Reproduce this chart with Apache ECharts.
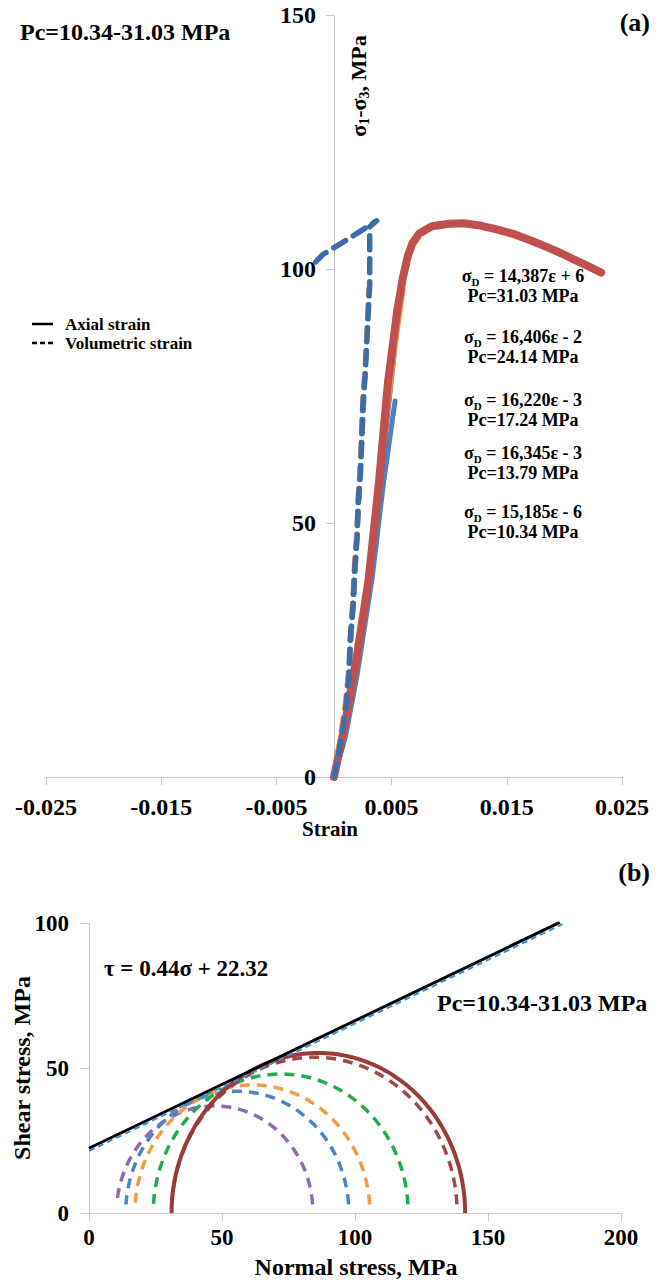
<!DOCTYPE html>
<html><head><meta charset="utf-8">
<script src="https://cdn.jsdelivr.net/npm/echarts@6/dist/echarts.min.js"></script>
<style>html,body{margin:0;padding:0;background:#fff}#c{width:664px;height:1280px}</style>
</head><body><div id="c"></div>
<script>
// ---------- Panel (a): stress-strain data [strain, sigma1-sigma3 (MPa)] ----------
const axial_10_34 = [[0,0],[0.0010,8],[0.0020,20],[0.0033,39],[0.0043,58],[0.0053,74]];
const axial_13_79 = [[0,0],[0.0010,9],[0.0020,22],[0.0032,41],[0.0043,63],[0.0053,84]];
const axial_17_24 = [[0,0],[0.0010,9],[0.0020,22],[0.0031,41],[0.0043,65],[0.0055,89]];
const axial_24_14 = [[0,0],[0.0010,10],[0.0020,24],[0.0030,40],[0.0042,64],[0.0052,83],[0.0060,96]];
const axial_31_03 = [[0,0],[0.0010,11],[0.0020,24],[0.0030,38.8],[0.0039,58],[0.0047,78],[0.0055,92],
  [0.0060,98.5],[0.0064,102.5],[0.0068,105],[0.0074,107],[0.0085,108.4],[0.0100,108.9],[0.0113,109],
  [0.0128,108.5],[0.0143,107.7],[0.0157,106.8],[0.0172,105.5],[0.0186,104.2],[0.0198,103],[0.0209,101.8],
  [0.0221,100.5],[0.0232,99.3]];
const vol_10_34 = [[0,0],[0.0005,6],[0.0010,13],[0.0013,20],[0.0015,28],[0.0017,35],[0.0019,43],[0.0021,52],[0.0023,61],[0.0025,70],[0.0026,74]];
const vol_13_79 = [[0,0],[0.0005,6],[0.0010,14],[0.0013,21],[0.0015,29],[0.0017,36],[0.0019,44],[0.0021,53],[0.0023,62],[0.0025,71],[0.0027,80],[0.0028,84]];
const vol_17_24 = [[0,0],[0.0005,7],[0.0010,14],[0.0013,21],[0.0015,29],[0.0017,37],[0.0019,45],[0.0021,54],[0.0023,62],[0.0025,71],[0.0027,80],[0.0029,88.5]];
const vol_24_14 = [[0,0],[0.0005,7],[0.0010,15],[0.0013,22],[0.0015,30],[0.00165,36],[0.0018,43],[0.0020,49],[0.0021,56],[0.0023,62],[0.0024,68],[0.0025,75],[0.0027,81],[0.0029,90],[0.0030,96]];
const vol_31_03 = [[0,0],[0.0005,6],[0.0010,13],[0.0013,20],[0.0014,27],[0.00165,33.5],[0.0018,41],[0.0020,47],
  [0.0021,54],[0.0023,60],[0.0024,66],[0.0025,73],[0.0027,79],[0.0029,88],[0.0031,97],[0.0031,108.3],
  [0.0037,109.5],[0.0022,107.3],[0.0008,105.3],[-0.0010,102.8],[-0.0020,100.4]];

// ---------- Panel (b): Mohr circles (sigma3, sigma1 in MPa) and envelope ----------
const circleSigma3 = [10.34, 13.79, 17.24, 24.14, 31.03, 31.03];
const circleSigma1 = [84.2, 97.7, 105.6, 120.0, 138.4, 141.4];
const envelopeSigma = [0, 177];
const envelopeTau = [22.32, 100.2];
const fitSigma = [0, 178];
const fitTau = [21.4, 99.6];

const F = 'Liberation Serif, Times New Roman, serif';
const txt = (x, y, text, size, align, extra) => Object.assign({
  type: 'text', x: x, y: y, silent: true,
  style: { text: text, fontFamily: F, fontWeight: 'bold', fontSize: size, fill: '#000',
    align: align || 'left', verticalAlign: 'middle' }
}, extra || {});
const richSub = (x, y, main, sub, rest, size) => ({
  type: 'text', x: x, y: y, silent: true,
  style: { text: '{t|' + main + '}{s|' + sub + '}{t|' + rest + '}', align: 'center', verticalAlign: 'middle',
    rich: { t: { fontFamily: F, fontWeight: 'bold', fontSize: size, fill: '#000', lineHeight: size + 4, verticalAlign: 'middle' },
            s: { fontFamily: F, fontWeight: 'bold', fontSize: Math.round(size * 0.62), fill: '#000', lineHeight: size + 4, verticalAlign: 'bottom' } } }
});

const annotations = [
  ['14,387ε + 6', 'Pc=31.03 MPa', 276],
  ['16,406ε - 2', 'Pc=24.14 MPa', 337],
  ['16,220ε - 3', 'Pc=17.24 MPa', 400],
  ['16,345ε - 3', 'Pc=13.79 MPa', 453],
  ['15,185ε - 6', 'Pc=10.34 MPa', 512]
];

const graphics = [
  txt(20, 32, 'Pc=10.34-31.03 MPa', 24),
  txt(650, 22, '(a)', 26, 'right'),
  txt(330, 829, 'Strain', 21, 'center'),
  txt(650, 872, '(b)', 26, 'right'),
  txt(104, 968, 'τ = 0.44σ + 22.32', 23),
  txt(437, 1003, 'Pc=10.34-31.03 MPa', 24),
  txt(356, 1267, 'Normal stress, MPa', 24, 'center'),
  txt(22, 1068, 'Shear stress, MPa', 24, 'center', { rotation: Math.PI / 2 }),
  { type: 'text', x: 358, y: 86, rotation: Math.PI / 2, silent: true,
    style: { text: '{t|σ}{s|1}{t|-σ}{s|3}{t|, MPa}', align: 'center', verticalAlign: 'middle',
      rich: { t: { fontFamily: F, fontWeight: 'bold', fontSize: 22, fill: '#000', lineHeight: 26, verticalAlign: 'middle' },
              s: { fontFamily: F, fontWeight: 'bold', fontSize: 14, fill: '#000', lineHeight: 26, verticalAlign: 'bottom' } } } },
  { type: 'line', silent: true, shape: { x1: 32, y1: 324, x2: 53, y2: 324 }, style: { stroke: '#000', lineWidth: 2.5 } },
  { type: 'line', silent: true, shape: { x1: 32, y1: 343, x2: 54, y2: 343 }, style: { stroke: '#000', lineWidth: 2.5, lineDash: [5, 3] } },
  txt(65, 324, 'Axial strain', 17),
  txt(65, 343, 'Volumetric strain', 17)
];
annotations.forEach(a => {
  graphics.push(richSub(523, a[2], 'σ', 'D', ' = ' + a[0], 18));
  graphics.push(txt(523, a[2] + 20, a[1], 18, 'center'));
});

const axisLabelStyle = (size, margin) => ({ fontFamily: F, fontWeight: 'bold', fontSize: size, color: '#000', margin: margin });
const grayLine = { show: true, onZero: true, lineStyle: { color: '#c8c8c8', width: 1 } };
const grayLineFree = { show: true, onZero: false, lineStyle: { color: '#c8c8c8', width: 1 } };
const grayTick = { show: true, length: 8, lineStyle: { color: '#c8c8c8', width: 1 } };

function lineSeries(data, color, width, dashed, z) {
  return { type: 'line', xAxisIndex: 0, yAxisIndex: 0, data: data, showSymbol: false, silent: true, z: z,
    lineStyle: { color: color, width: width, type: dashed ? [14, 9] : 'solid', cap: 'round', join: 'round' } };
}
function circleSeries(i, color, width, dash, gap, z) {
  return { type: 'custom', xAxisIndex: 1, yAxisIndex: 1, silent: true, z: z,
    data: [[circleSigma3[i], circleSigma1[i]]],
    renderItem: function (params, api) {
      const s3 = api.value(0), s1 = api.value(1);
      const c = (s3 + s1) / 2, r = (s1 - s3) / 2;
      const a0 = Math.asin(Math.min(gap / r, 1));
      const pts = [];
      const n = 120;
      for (let k = 0; k <= n; k++) {
        const t = a0 + (Math.PI - 2 * a0) * k / n;
        pts.push(api.coord([c + r * Math.cos(t), r * Math.sin(t)]));
      }
      return { type: 'polyline', shape: { points: pts },
        style: { stroke: color, lineWidth: width, lineDash: dash, fill: 'none' } };
    } };
}
function pairs(xs, ys) { return xs.map((x, i) => [x, ys[i]]); }

const option = {
  backgroundColor: '#fff',
  animation: false,
  grid: [
    { left: 46, right: 42, top: 15, bottom: 503 },
    { left: 89, right: 43, top: 923, bottom: 67 }
  ],
  xAxis: [
    { gridIndex: 0, type: 'value', min: -0.025, max: 0.025, interval: 0.01,
      axisLine: grayLine, axisTick: grayTick, splitLine: { show: false },
      axisLabel: Object.assign(axisLabelStyle(24, 18), { formatter: v => v.toFixed(3) }) },
    { gridIndex: 1, type: 'value', min: 0, max: 200, interval: 50,
      axisLine: grayLine, axisTick: grayTick, splitLine: { show: false },
      axisLabel: axisLabelStyle(23, 13) }
  ],
  yAxis: [
    { gridIndex: 0, type: 'value', min: 0, max: 150, interval: 50, position: 'left', offset: -288,
      axisLine: grayLineFree, axisTick: grayTick, splitLine: { show: false },
      axisLabel: axisLabelStyle(24, 18) },
    { gridIndex: 1, type: 'value', min: 0, max: 100, interval: 50,
      axisLine: grayLine, axisTick: grayTick, splitLine: { show: false },
      axisLabel: axisLabelStyle(23, 20) }
  ],
  graphic: graphics,
  series: [
    lineSeries(axial_10_34, '#4f81bd', 5, false, 2),
    lineSeries(axial_13_79, '#8064a2', 4, false, 2),
    lineSeries(axial_17_24, '#5a8ac6', 4, false, 2),
    lineSeries(axial_24_14, '#f79646', 5, false, 2),
    lineSeries(axial_31_03, '#c0504d', 8, false, 3),
    lineSeries(vol_10_34, '#4f81bd', 5, true, 4),
    lineSeries(vol_13_79, '#8064a2', 5, true, 4),
    lineSeries(vol_17_24, '#9bbb59', 5, true, 4),
    lineSeries(vol_24_14, '#f79646', 5, true, 4),
    lineSeries(vol_31_03, '#3d6ca8', 5.5, true, 5),
    circleSeries(0, '#8e6bb0', 3.5, [10, 7], 3, 2),
    circleSeries(1, '#4a86c5', 3.5, [10, 7], 3, 2),
    circleSeries(2, '#f59a45', 3.5, [10, 7], 3, 2),
    circleSeries(3, '#1fae4b', 3.5, [10, 7], 3, 2),
    circleSeries(4, '#a4474a', 3.5, [10, 7], 3, 2),
    circleSeries(5, '#9b3b39', 4, null, 0, 3),
    { type: 'line', xAxisIndex: 1, yAxisIndex: 1, data: pairs(envelopeSigma, envelopeTau), showSymbol: false, silent: true, z: 5,
      lineStyle: { color: '#000', width: 3 } },
    { type: 'line', xAxisIndex: 1, yAxisIndex: 1, data: pairs(fitSigma, fitTau), showSymbol: false, silent: true, z: 6,
      lineStyle: { color: '#3a8fd6', width: 2, type: [6, 4] } }
  ]
};
const chart = echarts.init(document.getElementById('c'), null, { renderer: 'svg' });
chart.setOption(option);
</script>
</body></html>
